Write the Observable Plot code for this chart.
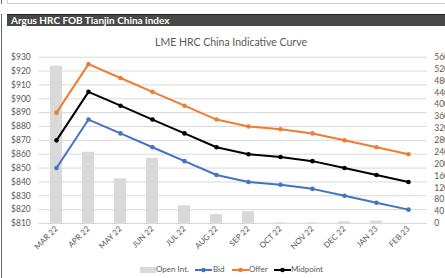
<!DOCTYPE html>
<html><head><meta charset="utf-8">
<script src="https://cdn.jsdelivr.net/npm/d3@7"></script>
<script src="https://cdn.jsdelivr.net/npm/@observablehq/plot@0.6"></script>
<style>
body{margin:0;background:#fff;font-family:Lato,"DejaVu Sans",sans-serif;}
#wrap{position:relative;width:445px;height:278px;overflow:hidden;background:#fff}
.topbox{position:absolute;left:7px;top:0;width:438px;height:3px;border-bottom:1px solid #d0d0d0;border-left:1px solid #d0d0d0}
.leftline{position:absolute;left:1px;top:14px;width:1px;height:264px;background:#666}
.leftline2{position:absolute;left:1px;top:0;width:1px;height:4px;background:#666}
.header{position:absolute;left:7px;top:14px;width:438px;height:12px;background:#484848;border-top:1px solid #222;box-sizing:border-box;color:#fff;font-weight:bold;font-size:10px;line-height:11px;padding-left:4px;white-space:nowrap}
.title{position:absolute;left:0;width:462px;top:35px;text-align:center;color:#595959;font-size:10.5px;line-height:14px}
#chart{position:absolute;left:0;top:0}
.lg{position:absolute;top:264px;font-size:8px;line-height:11px;color:#595959;white-space:nowrap}
.sw{position:absolute}
</style></head><body>
<div id="wrap">
 <div class="topbox"></div>
 <div class="leftline2"></div>
 <div class="leftline"></div>
 <div class="header">Argus HRC FOB Tianjin China index</div>
 <div class="title">LME HRC China Indicative Curve</div>
 <div id="chart"></div>
 <div id="legend"></div>
</div>
<script>
const months = ["MAR 22","APR 22","MAY 22","JUN 22","JUL 22","AUG 22","SEP 22","OCT 22","NOV 22","DEC 22","JAN 23","FEB 23"];
const openInt = [530, 240, 150, 220, 60, 30, 40, 2, 2, 6, 8, 0];
const bid = [850, 885, 875, 865, 855, 845, 840, 838, 835, 830, 825, 820];
const offer = [890, 925, 915, 905, 895, 885, 880, 878, 875, 870, 865, 860];
const midpoint = [870, 905, 895, 885, 875, 865, 860, 858, 855, 850, 845, 840];
const leftTicks = [810, 820, 830, 840, 850, 860, 870, 880, 890, 900, 910, 920, 930];
const rightTicks = [0, 40, 80, 120, 160, 200, 240, 280, 320, 360, 400, 440, 480, 520, 560];

const seriesNames = ["Bid", "Offer", "Midpoint"];
const seriesColors = ["#4472C4", "#ED7D31", "#000000"];
const seriesValues = [bid, offer, midpoint];

// right axis (Open Int.) maps onto the left $ scale: 0 -> 810, 560 -> 930
const toLeft = v => 810 + v * 120 / 560;

const bars = months.map((m, i) => ({m, oi: openInt[i]}));
const lines = seriesNames.flatMap((s, k) => months.map((m, i) => ({s, m, v: seriesValues[k][i]})));

const chart = Plot.plot({
  width: 445,
  height: 250,
  marginTop: 56.7,
  marginBottom: 27,
  marginLeft: 38.3,
  marginRight: 18.3,
  style: {color: "#595959", fontSize: "8px", fontFamily: "Lato, sans-serif", background: "transparent"},
  x: {type: "band", domain: months, paddingInner: 0.62, paddingOuter: 0.31, label: null},
  y: {domain: [810, 930], label: null},
  color: {domain: seriesNames, range: seriesColors},
  marks: [
    Plot.gridY(leftTicks, {stroke: "#d9d9d9", strokeOpacity: 1, strokeWidth: 1}),
    Plot.barY(bars, {x: "m", y1: 810, y2: d => toLeft(d.oi), fill: "#d9d9d9"}),
    Plot.line(lines, {x: "m", y: "v", z: "s", stroke: "s", strokeWidth: 2}),
    Plot.dot(lines, {x: "m", y: "v", fill: "s", r: 2.3}),
    Plot.axisY(leftTicks, {anchor: "left", tickSize: 0, tickPadding: 8, tickFormat: d => "$" + d, fontSize: 8.5, label: null}),
    Plot.axisY(rightTicks.map(toLeft), {anchor: "right", tickSize: 0, tickPadding: 7, tickFormat: d => String(Math.round((d - 810) * 560 / 120)), fontSize: 8.5, label: null}),
    Plot.axisX({tickSize: 0, tickRotate: -45, tickPadding: 4, fontSize: 8, label: null})
  ]
});
document.getElementById("chart").appendChild(chart);

// legend
const lg = document.getElementById("legend");
const items = [
  {label: "Open Int.", type: "bar", color: "#d9d9d9", sx: 140, tx: 156},
  {label: "Bid", type: "line", color: seriesColors[0], sx: 195, tx: 213},
  {label: "Offer", type: "line", color: seriesColors[1], sx: 232, tx: 249},
  {label: "Midpoint", type: "line", color: seriesColors[2], sx: 274, tx: 291}
];
for (const it of items) {
  const ns = "http://www.w3.org/2000/svg";
  const svg = document.createElementNS(ns, "svg");
  svg.setAttribute("width", 17); svg.setAttribute("height", 8);
  svg.setAttribute("class", "sw");
  svg.style.left = it.sx + "px"; svg.style.top = "266px";
  if (it.type === "bar") {
    const r = document.createElementNS(ns, "rect");
    r.setAttribute("x", 0); r.setAttribute("y", 1); r.setAttribute("width", 16); r.setAttribute("height", 6);
    r.setAttribute("fill", it.color); svg.appendChild(r);
  } else {
    const l = document.createElementNS(ns, "line");
    l.setAttribute("x1", 0); l.setAttribute("x2", 17); l.setAttribute("y1", 4); l.setAttribute("y2", 4);
    l.setAttribute("stroke", it.color); l.setAttribute("stroke-width", 2); svg.appendChild(l);
    const c = document.createElementNS(ns, "circle");
    c.setAttribute("cx", 8.5); c.setAttribute("cy", 4); c.setAttribute("r", 2.3);
    c.setAttribute("fill", it.color); svg.appendChild(c);
  }
  lg.appendChild(svg);
  const t = document.createElement("div");
  t.className = "lg"; t.style.left = it.tx + "px"; t.textContent = it.label;
  lg.appendChild(t);
}
</script>
</body></html>
